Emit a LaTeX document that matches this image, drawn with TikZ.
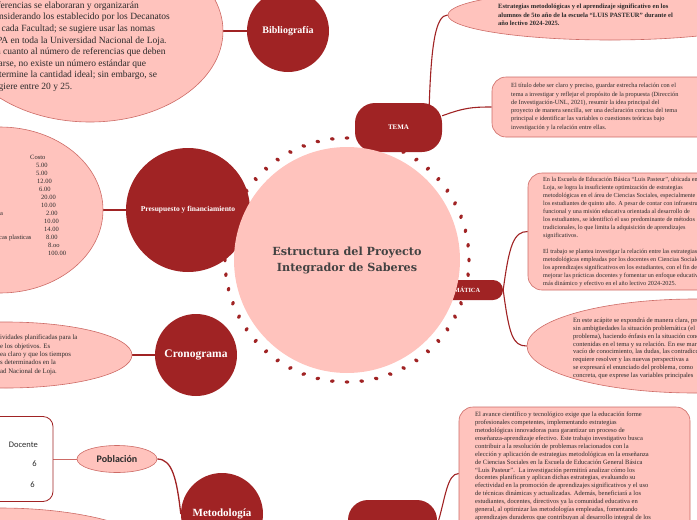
\documentclass[tikz,border=0pt]{standalone}
\usepackage{fontspec}
\setmainfont{Liberation Serif}
\newfontfamily\titlefont{DejaVu Serif}
\newfontfamily\popfont{Carlito}
\usetikzlibrary{shapes.geometric,calc}
\definecolor{dred}{HTML}{A02324}
\definecolor{pinkf}{HTML}{FFC3BD}
\definecolor{pinkb}{HTML}{CD6B66}
\definecolor{txt}{HTML}{2B2B2B}
\definecolor{ttxt}{HTML}{424242}
\pgfdeclarelayer{bg}
\pgfsetlayers{bg,main}
\begin{document}
\begin{tikzpicture}[x=1pt,y=-1pt,
  conn/.style={draw=dred,line width=1.8pt},
  rconn/.style={draw=dred,line width=1.1pt},
  thinconn/.style={draw=pinkb,line width=0.8pt},
  sat/.style={circle,fill=dred,text=white,inner sep=0pt,align=center},
  pinkell/.style={ellipse,fill=pinkf,draw=pinkb,line width=0.6pt,inner sep=0pt},
  pinkbox/.style={rectangle,rounded corners=14pt,fill=pinkf,draw=pinkb,line width=0.6pt,inner sep=0pt},
  redbox/.style={rectangle,rounded corners=20pt,fill=dred,text=white,inner sep=0pt},
  body/.style={anchor=north west,align=left,text=txt,inner sep=0pt},
  num/.style={anchor=base west,text=txt,inner sep=0pt,font=\fontsize{6.5}{8}\selectfont},
  ringdot/.style={ellipse,fill=dred,inner sep=0pt,minimum width=4.6pt,minimum height=3.4pt},
]
\useasboundingbox (0,0) rectangle (697,520);
\clip (0,0) rectangle (697,520);

% dotted ring
\foreach \i in {0,...,51}{
  \pgfmathsetmacro\ang{360/52*\i}
  \pgfmathsetmacro\px{347+122*cos(\ang)}
  \pgfmathsetmacro\py{260+122*sin(\ang)}
  \node[ringdot,rotate=\ang+90] (dot\i) at (\px,\py) {};
}

% ---- left side
\node[pinkell,minimum width=266pt,minimum height=182pt] (bibell) at (90,31) {};
\node[body,font=\fontsize{9.5}{11.6}\selectfont] (bibtxt) at (-10,1.5)
 {referencias se elaboraran y organizarán\\
  considerando los establecido por los Decanatos\\
  de cada Facultad; se sugiere usar las nomas\\
  APA en toda la Universidad Nacional de Loja.\\
  En cuanto al número de referencias que deben\\
  usarse, no existe un número estándar que\\
  determine la cantidad ideal; sin embargo, se\\
  sugiere entre 20 y 25.};
\node[sat,minimum size=82pt,font=\bfseries\fontsize{10}{12}\selectfont] (bib) at (288,31) {Bibliografía};

\node[pinkell,minimum width=206pt,minimum height=166pt] (preell) at (0,210) {};
\foreach \v/\xx [count=\i] in {Costo/30,5.00/36,5.00/36,12.00/37,6.00/39,20.00/41,10.00/41,2.00/46,10.00/44,14.00/44,8.00/46,8.oo/48,100.00/48}{
  \pgfmathsetmacro\yy{151.6+8*\i}
  \node[num] (cost\i) at (\xx,\yy) {\v};
}
\node[num] (pa) at (0,215.6) {a};
\node[num] (pb) at (-1,239.6) {cas plasticas};
\node[sat,minimum size=124pt,font=\bfseries\fontsize{7.5}{9}\selectfont] (pre) at (188,210) {Presupuesto y financiamiento};

\node[pinkell,minimum width=252pt,minimum height=66pt] (croell) at (6,355) {};
\node[body,font=\fontsize{6.8}{8.3}\selectfont] (crotxt) at (0,335)
 {ividades planificadas para la\\
  e los objetivos. Es\\
  ea claro y que los tiempos\\
  s determinados en la\\
  ad Nacional de Loja.};
\node[sat,minimum size=82pt,font=\bfseries\fontsize{11.5}{13}\selectfont] (cro) at (196,355) {Cronograma};

\node[rectangle,rounded corners=10pt,draw=dred,fill=white,line width=0.8pt,minimum width=100pt,minimum height=85pt] (tab) at (3,459) {};
\node[anchor=base east,text=txt,inner sep=0pt,font=\popfont\fontsize{8.5}{10}\selectfont] (tdoc) at (38,447) {Docente};
\node[anchor=base east,text=txt,inner sep=0pt,font=\popfont\fontsize{8.5}{10}\selectfont] (t6a) at (37,466) {6};
\node[anchor=base east,text=txt,inner sep=0pt,font=\popfont\fontsize{8.5}{10}\selectfont] (t6b) at (35,487) {6};
\node[pinkell,minimum width=80pt,minimum height=27pt,text=txt,font=\popfont\bfseries\fontsize{10}{12}\selectfont] (pob) at (117,459) {Población};
\node[pinkell,minimum width=330pt,minimum height=104pt] (blell) at (0,560) {};
\node[sat,minimum size=82pt,font=\bfseries\fontsize{11}{13}\selectfont] (met) at (222,514) {Metodología};

% ---- right side
\node[redbox,minimum width=87pt,minimum height=49pt,font=\bfseries\fontsize{7}{8}\selectfont] (tema) at (398.5,127.5) {TEMA};
\node[pinkell,minimum width=324pt,minimum height=50pt] (ttl) at (610,15) {};
\node[body,font=\bfseries\fontsize{6.5}{8.5}\selectfont] (ttltxt) at (498,4)
 {Estrategias metodológicas y el aprendizaje significativo en los\\
  alumnos de 5to año de la escuela “LUIS PASTEUR” durante el\\
  año lectivo 2024-2025.};
\node[pinkbox,minimum width=228pt,minimum height=60pt] (temabox) at (606,107) {};
\node[body,font=\fontsize{6.3}{8.3}\selectfont] (tematxt) at (511,83.2)
 {El título debe ser claro y preciso, guardar estrecha relación con el\\
  tema a investigar y reflejar el propósito de la propuesta (Dirección\\
  de Investigación-UNL, 2021), resumir la idea principal del\\
  proyecto de manera sencilla, ser una declaración concisa del tema\\
  principal e identificar las variables o cuestiones teóricas bajo\\
  investigación y la relación entre ellas.};

\node[redbox,rounded corners=10pt,minimum width=98pt,minimum height=20pt,font=\bfseries\fontsize{6.3}{7}\selectfont] (prob) at (454,290) {PROBLEMÁTICA};
\node[pinkbox,minimum width=192pt,minimum height=117pt] (probbox) at (624,231.5) {};
\node[body,font=\fontsize{6.2}{8}\selectfont] (probtxt) at (543,177.2)
 {En la Escuela de Educación Básica “Luis Pasteur”, ubicada en\\
  Loja, se logra la insuficiente optimización de estrategias\\
  metodológicas en el área de Ciencias Sociales, especialmente en\\
  los estudiantes de quinto año. A pesar de contar con infraestructura\\
  funcional y una misión educativa orientada al desarrollo de\\
  los estudiantes, se identificó el uso predominante de métodos\\
  tradicionales, lo que limita la adquisición de aprendizajes\\
  significativos.\\[8pt]
  El trabajo se plantea investigar la relación entre las estrategias\\
  metodológicas empleadas por los docentes en Ciencias Sociales y\\
  los aprendizajes significativos en los estudiantes, con el fin de\\
  mejorar las prácticas docentes y fomentar un enfoque educativo\\
  más dinámico y efectivo en el año lectivo 2024-2025.};
\node[pinkell,minimum width=336pt,minimum height=94pt] (probell) at (695,346) {};
\node[body,font=\fontsize{6.5}{7.8}\selectfont] (probelltxt) at (573,318)
 {En este acápite se expondrá de manera clara, precisa y\\
  sin ambigüedades la situación problemática (el\\
  problema), haciendo énfasis en la situación concreta\\
  contenidas en el tema y su relación. En ese marco, el\\
  vacío de conocimiento, las dudas, las contradicciones\\
  requiere resolver y las nuevas perspectivas a\\
  se expresará el enunciado del problema, como\\
  concreta, que exprese las variables principales};

\node[redbox,minimum width=89pt,minimum height=50pt] (just) at (392.5,525) {};
\node[pinkbox,minimum width=231pt,minimum height=133pt] (justbox) at (574.5,473.5) {};
\node[body,font=\fontsize{6.5}{7.9}\selectfont] (justtxt) at (475,412)
 {El avance científico y tecnológico exige que la educación forme\\
  profesionales competentes, implementando estrategias\\
  metodológicas innovadoras para garantizar un proceso de\\
  enseñanza-aprendizaje efectivo. Este trabajo investigativo busca\\
  contribuir a la resolución de problemas relacionados con la\\
  elección y aplicación de estrategias metodológicas en la enseñanza\\
  de Ciencias Sociales en la Escuela de Educación General Básica\\
  “Luis Pasteur”.~ La investigación permitirá analizar cómo los\\
  docentes planifican y aplican dichas estrategias, evaluando su\\
  efectividad en la promoción de aprendizajes significativos y el uso\\
  de técnicas dinámicas y actualizadas. Además, beneficiará a los\\
  estudiantes, docentes, directivos ya la comunidad educativa en\\
  general, al optimizar las metodologías empleadas, fomentando\\
  aprendizajes duraderos que contribuyan al desarrollo integral de los};

% ---- centre
\node[circle,fill=pinkf,minimum size=226pt,inner sep=0pt,align=center,text=ttxt,
      font=\titlefont\bfseries\fontsize{11.2}{16}\selectfont] (main) at (347,260)
 {Estructura del Proyecto\\Integrador de Saberes};

% ---- connectors
\begin{pgfonlayer}{bg}
\draw[conn] (bibell.east) -- (bib.west);
\draw[conn] (preell.east) -- (pre.west);
\draw[conn] (croell.east) -- (cro.west);
\draw[thinconn] (tab.east) -- (pob.west);
\draw[conn,line width=1.3pt] (pob.east) .. controls +(15,0) and +(-4,-35) .. (met.west);
\draw[rconn] ($(tema.north east)+(-13,3)$) .. controls +(2,-62) and +(-12,0) .. (ttl.west);
\draw[rconn] (tema.15) .. controls +(22,-8) and +(-20,0) .. (temabox.west);
\draw[rconn] (prob.east) .. controls +(6,-45) and +(-14,0) .. (probbox.west);
\draw[rconn] (prob.east) .. controls +(6,45) and +(-14,0) .. (probell.west);
\draw[rconn] (just.east) .. controls +(8,-25) and +(-12,0) .. (justbox.west);
\end{pgfonlayer}
\end{tikzpicture}
\end{document}
